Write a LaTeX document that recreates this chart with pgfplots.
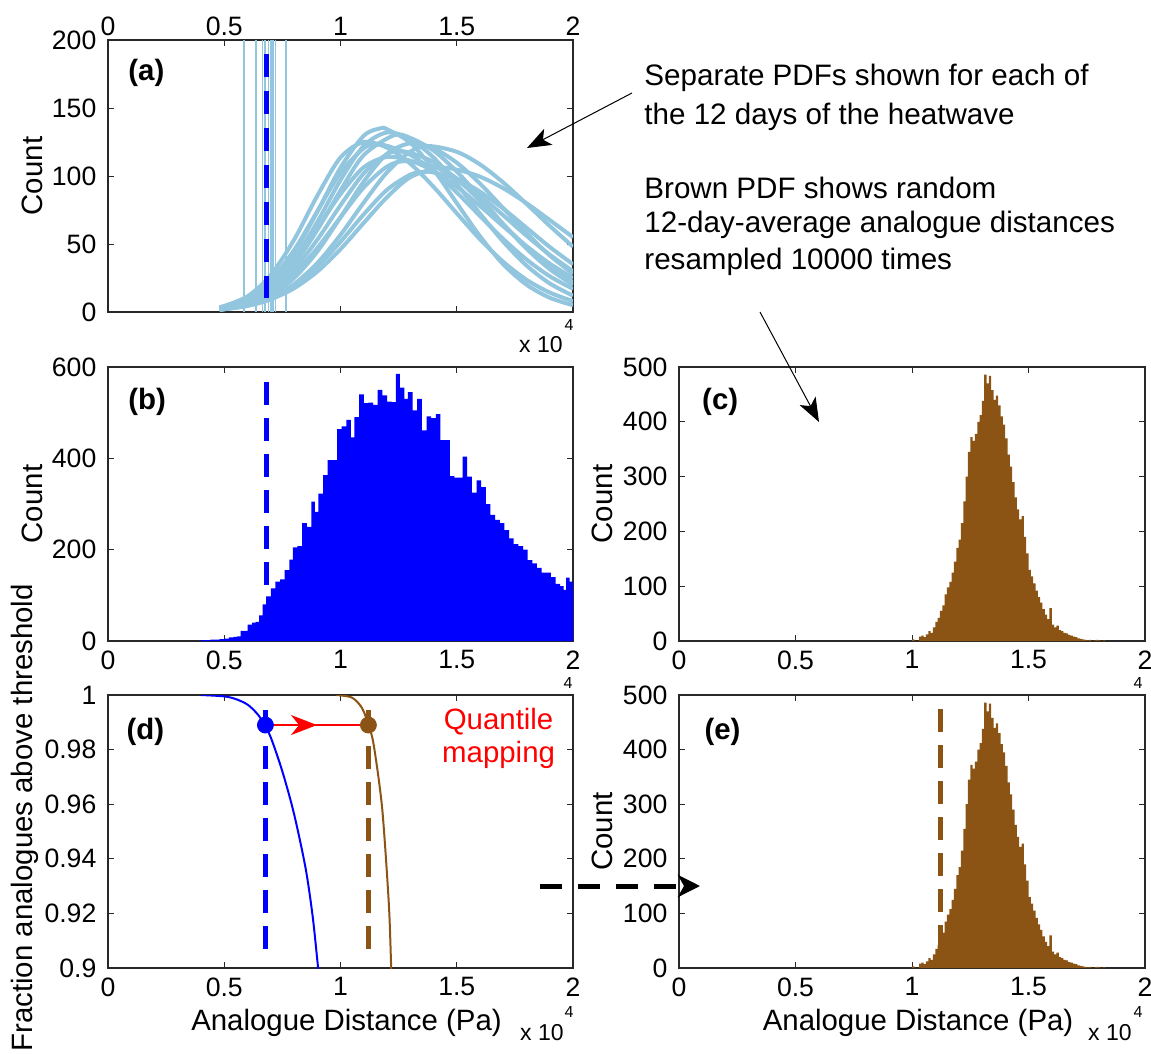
\documentclass[border=0pt]{standalone}
\usepackage{pgfplots}
\pgfplotsset{compat=1.18}
\usepackage{pgfplotstable}
\usepackage{fontspec}
\setmainfont{Liberation Sans}
\usetikzlibrary{arrows.meta}
\definecolor{lb}{RGB}{146,197,222}
\definecolor{brownc}{RGB}{140,84,20}
\definecolor{axgray}{RGB}{40,40,40}

\pgfplotstableread{
x y
1.00 3
1.01 0
1.02 0
1.03 8
1.04 10
1.05 7
1.06 12
1.07 18
1.08 15
1.09 25
1.10 35
1.11 42
1.12 55
1.13 65
1.14 85
1.15 98
1.16 108
1.17 125
1.18 145
1.19 170
1.20 185
1.21 215
1.22 255
1.23 300
1.24 345
1.25 372
1.26 365
1.27 378
1.28 400
1.29 412
1.30 438
1.31 486
1.32 470
1.33 484
1.34 458
1.35 440
1.36 448
1.37 430
1.38 410
1.39 395
1.40 370
1.41 340
1.42 318
1.43 290
1.44 262
1.45 240
1.46 222
1.47 228
1.48 190
1.49 160
1.50 130
1.51 118
1.52 105
1.53 92
1.54 80
1.55 70
1.56 58
1.57 48
1.58 40
1.59 60
1.60 30
1.61 25
1.62 28
1.63 20
1.64 18
1.65 15
1.66 14
1.67 11
1.68 10
1.69 8
1.70 7
1.71 5
1.72 4
1.73 3
1.74 2
1.75 1
1.76 2
1.77 0
1.78 1
1.79 2
1.80 1
1.81 0
1.82 1
1.83 0
}\brownhist

\pgfplotsset{
 panel/.style={
  scale only axis, xmin=0, xmax=2, scaled ticks=false,
  xtick={0,0.5,1,1.5,2}, xticklabels={0,0.5,1,1.5,2},
  tick align=inside, xtick pos=both, ytick pos=both,
  major tick length=3pt,
  axis line style={axgray, line width=0.6pt},
  every tick/.style={axgray, line width=0.5pt},
  tick label style={font=\fontsize{13.3}{15}\selectfont},
  xticklabel style={yshift=-1.2pt},
  yticklabel style={xshift=-2.3pt},
  label style={font=\fontsize{14.7}{17}\selectfont},
 },
 ylab/.style={ylabel style={at={(axis description cs:#1)}, anchor=center}},
 xlab/.style={xlabel style={at={(axis description cs:0.513,-0.2015)}, anchor=center}},
 pdfc/.style={lb, line width=2pt, smooth, no markers},
}
\newcommand{\plab}[2]{\node[anchor=west, inner sep=0pt, font=\fontsize{14.7}{17}\selectfont\bfseries] at (axis description cs:#1) {#2};}

\begin{document}
\begin{tikzpicture}
\path[use as bounding box] (0,0) rectangle (575.5pt,-527pt);

% ---------------- (a)
\begin{axis}[panel, at={(54pt,-156pt)}, anchor=south west,
  width=232.5pt, height=136pt, ymin=0, ymax=200,
  xticklabel pos=upper,
  ytick={0,50,100,150,200}, yticklabels={0,50,100,150,200},
  ylabel={Count}, ylab={-0.163,0.5}]
\addplot[lb, line width=0.75pt] coordinates {(0.585,0)(0.585,200)};
\addplot[lb, line width=0.75pt] coordinates {(0.637,0)(0.637,200)};
\addplot[lb, line width=0.75pt] coordinates {(0.665,0)(0.665,200)};
\addplot[lb, line width=0.75pt] coordinates {(0.675,0)(0.675,200)};
\addplot[lb, line width=0.75pt] coordinates {(0.69,0)(0.69,200)};
\addplot[lb, line width=0.75pt] coordinates {(0.70,0)(0.70,200)};
\addplot[lb, line width=0.75pt] coordinates {(0.71,0)(0.71,200)};
\addplot[lb, line width=0.75pt] coordinates {(0.72,0)(0.72,200)};
\addplot[lb, line width=0.75pt] coordinates {(0.765,0)(0.765,200)};
\addplot[pdfc] coordinates {(0.48,2.6)(0.6,9.0)(0.7,21.4)(0.8,43.2)(0.9,73.6)(1.0,106.1)(1.1,129.6)(1.17,135)(1.2,134.4)(1.3,124.5)(1.4,104.8)(1.5,80.1)(1.6,55.7)(1.7,35.1)(1.8,20.1)(1.9,10.5)(2.0,5.0)};
\addplot[pdfc] coordinates {(0.48,2.5)(0.6,8.3)(0.7,19.3)(0.8,38.6)(0.9,66.1)(1.0,97.0)(1.1,122.2)(1.2,132)(1.3,127.1)(1.4,113.6)(1.5,94.2)(1.6,72.4)(1.7,51.7)(1.8,34.2)(1.9,21.0)(2.0,12.0)};
\addplot[pdfc] coordinates {(0.48,2.4)(0.6,7.9)(0.7,17.9)(0.8,35.2)(0.9,60.2)(1.0,89.4)(1.1,115.4)(1.23,130)(1.3,128.0)(1.4,118.7)(1.5,103.3)(1.6,84.4)(1.7,64.7)(1.8,46.6)(1.9,31.5)(2.0,20.0)};
\addplot[pdfc] coordinates {(0.48,3.2)(0.6,11.5)(0.7,27.2)(0.8,53.0)(0.9,85.4)(1.0,113.6)(1.1,125)(1.2,120.8)(1.3,109.1)(1.4,92.1)(1.5,72.6)(1.6,53.5)(1.7,36.9)(1.8,23.7)(1.9,14.3)(2.0,8.0)};
\addplot[pdfc] coordinates {(0.48,3.2)(0.6,10.5)(0.7,23.7)(0.8,45.4)(0.9,74.0)(1.0,102.4)(1.1,120.5)(1.15,123)(1.2,122.2)(1.3,115.6)(1.4,103.6)(1.5,87.9)(1.6,70.6)(1.7,53.7)(1.8,38.6)(1.9,26.3)(2.0,17.0)};
\addplot[pdfc] coordinates {(0.48,1.6)(0.6,5.3)(0.7,12.3)(0.8,24.9)(0.9,44.4)(1.0,69.6)(1.1,95.9)(1.2,116.3)(1.3,124)(1.4,120.3)(1.5,109.8)(1.6,94.4)(1.7,76.3)(1.8,58.1)(1.9,41.6)(2.0,28.1)};
\addplot[pdfc] coordinates {(0.48,1.7)(0.6,4.8)(0.7,10.5)(0.8,20.5)(0.9,35.9)(1.0,56.7)(1.1,80.5)(1.2,102.7)(1.3,117.9)(1.38,122)(1.5,117.8)(1.6,108.5)(1.7,95.2)(1.8,79.5)(1.9,63.3)(2.0,48.0)};
\addplot[pdfc] coordinates {(0.48,2.5)(0.6,7.5)(0.7,16.4)(0.8,31.5)(0.9,53.1)(1.0,78.5)(1.1,101.9)(1.2,116.1)(1.25,118)(1.3,117.1)(1.4,110.3)(1.5,97.9)(1.6,81.8)(1.7,64.4)(1.8,47.8)(1.9,33.4)(2.0,22.0)};
\addplot[pdfc] coordinates {(0.48,3.3)(0.6,9.7)(0.7,20.5)(0.8,38.0)(0.9,61.5)(1.0,86.7)(1.1,106.4)(1.2,114)(1.3,111.3)(1.4,103.7)(1.5,92.1)(1.6,78.0)(1.7,63.0)(1.8,48.5)(1.9,35.6)(2.0,25.0)};
\addplot[pdfc] coordinates {(0.48,1.7)(0.6,4.5)(0.7,9.3)(0.8,17.4)(0.9,29.7)(1.0,46.2)(1.1,65.5)(1.2,84.4)(1.3,99.1)(1.42,106)(1.5,104.7)(1.6,99.5)(1.7,91.0)(1.8,80.0)(1.9,67.6)(2.0,55.0)};
\addplot[pdfc] coordinates {(0.48,2.5)(0.6,7.1)(0.7,15.0)(0.8,28.2)(0.9,47.0)(1.0,69.7)(1.1,91.6)(1.2,106.9)(1.28,111)(1.4,107.0)(1.5,98.2)(1.6,85.7)(1.7,71.1)(1.8,56.1)(1.9,42.1)(2.0,30.0)};
\addplot[pdfc] coordinates {(0.48,1.6)(0.6,4.7)(0.7,10.1)(0.8,19.3)(0.9,33.3)(1.0,51.6)(1.1,71.8)(1.2,89.8)(1.3,101.0)(1.36,103)(1.4,102.6)(1.5,97.8)(1.6,88.5)(1.7,76.0)(1.8,61.9)(1.9,47.8)(2.0,35.1)};
\addplot[blue, line width=2.5pt, dash pattern=on 11.5pt off 7pt] coordinates {(0.68,190)(0.68,10)};
\plab{0.043,0.879}{(a)}
\end{axis}

% ---------------- (b)
\begin{axis}[panel, at={(54pt,-320.5pt)}, anchor=south west,
  width=232.5pt, height=137pt, ymin=0, ymax=600,
  ytick={0,200,400,600}, yticklabels={0,200,400,600},
  ylabel={Count}, ylab={-0.163,0.5}]
\addplot[const plot, fill=blue, draw=none] coordinates {(0.38,0)(0.40,2)(0.42,2)(0.44,3)(0.46,3)(0.48,4)(0.50,5)(0.52,8)(0.54,9)(0.555,10)(0.57,22)(0.585,22)(0.60,36)(0.62,40)(0.635,42)(0.65,56)(0.665,80)(0.68,98)(0.70,115)(0.72,130)(0.74,135)(0.76,155)(0.78,178)(0.795,205)(0.815,208)(0.835,258)(0.855,250)(0.875,305)(0.89,283)(0.905,323)(0.925,363)(0.945,396)(0.965,396)(0.985,464)(1.005,470)(1.025,484)(1.045,446)(1.06,490)(1.08,540)(1.10,521)(1.12,522)(1.14,517)(1.16,550)(1.18,538)(1.20,524)(1.22,523)(1.238,585)(1.255,555)(1.275,530)(1.29,545)(1.31,505)(1.33,530)(1.35,461)(1.37,492)(1.39,488)(1.41,497)(1.43,440)(1.45,440)(1.47,361)(1.49,358)(1.51,358)(1.525,404)(1.545,360)(1.565,325)(1.585,352)(1.605,337)(1.625,300)(1.645,276)(1.665,265)(1.685,258)(1.705,243)(1.725,225)(1.745,212)(1.765,208)(1.785,200)(1.805,177)(1.825,170)(1.845,160)(1.865,150)(1.885,150)(1.905,140)(1.925,125)(1.945,120)(1.96,112)(1.97,139)(1.985,130)(2.0,130)} \closedcycle;
\addplot[blue, line width=2.5pt, dash pattern=on 11.5pt off 6.5pt] coordinates {(0.68,567)(0.68,112)};
\plab{0.043,0.872}{(b)}
\end{axis}

% ---------------- (c)
\begin{axis}[panel, at={(339.5pt,-320.5pt)}, anchor=south west,
  width=233pt, height=137pt, ymin=0, ymax=500,
  ytick={0,100,200,300,400,500}, yticklabels={0,100,200,300,400,500},
  ylabel={Count}, ylab={-0.165,0.5}]
\addplot[const plot, fill=brownc, draw=none] table[x=x,y=y] {\brownhist} \closedcycle;
\plab{0.049,0.872}{(c)}
\end{axis}

% ---------------- (d)
\begin{axis}[panel, at={(54pt,-484pt)}, anchor=south west,
  width=232.5pt, height=136.5pt, ymin=0.9, ymax=1,
  ytick={0.9,0.92,0.94,0.96,0.98,1}, yticklabels={0.9,0.92,0.94,0.96,0.98,1},
  ylabel={Fraction analogues above threshold}, ylab={-0.178,0.55},
  xlabel={Analogue Distance (Pa)}, xlab]
\addplot[blue, line width=1pt, smooth] coordinates {(0.40,1.0)(0.50,0.9995)(0.55,0.9985)(0.60,0.9965)(0.64,0.9933)(0.668,0.9899)(0.70,0.9845)(0.75,0.972)(0.80,0.9565)(0.85,0.9365)(0.88,0.9191)(0.90,0.9031)(0.906,0.898)};
\addplot[brownc, line width=1pt, smooth] coordinates {(0.982,1.0)(1.048,0.9991)(1.089,0.9957)(1.114,0.9908)(1.139,0.9835)(1.163,0.970)(1.18,0.9578)(1.196,0.9395)(1.21,0.92)(1.218,0.9)(1.22,0.895)};
\addplot[blue, line width=2.5pt, dash pattern=on 11.5pt off 6.5pt] coordinates {(0.677,0.9945)(0.677,0.9055)};
\addplot[brownc, line width=2.5pt, dash pattern=on 11.5pt off 6.5pt] coordinates {(1.12,0.9945)(1.12,0.9055)};
\addplot[red, line width=0.75pt] coordinates {(0.69,0.989)(1.11,0.989)};
\addplot[red, line width=0.75pt, -{Stealth[length=13pt,width=10pt,inset=4pt]}] coordinates {(0.69,0.989)(0.899,0.989)};
\addplot[only marks, mark=*, mark size=4pt, blue] coordinates {(0.677,0.989)};
\addplot[only marks, mark=*, mark size=4pt, brownc] coordinates {(1.12,0.989)};
\node[red, align=center, font=\fontsize{14.7}{16.5}\selectfont] at (axis cs:1.68,0.9842) {Quantile\\mapping};
\plab{0.039,0.864}{(d)}
\end{axis}

% ---------------- (e)
\begin{axis}[panel, at={(339.5pt,-484pt)}, anchor=south west,
  width=233pt, height=136.5pt, ymin=0, ymax=500,
  ytick={0,100,200,300,400,500}, yticklabels={0,100,200,300,400,500},
  ylabel={Count}, ylab={-0.165,0.5},
  xlabel={Analogue Distance (Pa)}, xlab]
\addplot[const plot, fill=brownc, draw=none] table[x=x,y=y] {\brownhist} \closedcycle;
\addplot[brownc, line width=2.5pt, dash pattern=on 11.5pt off 6.5pt] coordinates {(1.123,474)(1.123,38)};
\plab{0.054,0.864}{(e)}
\end{axis}

% ---------------- exponent labels
\begin{scope}[every node/.style={inner sep=0pt}]
\node[anchor=east, font=\fontsize{11.5}{13}\selectfont] at (281.5pt,-172.5pt) {x 10};
\node[font=\fontsize{8}{9}\selectfont] at (284.5pt,-162.5pt) {4};
\node[font=\fontsize{8}{9}\selectfont] at (284pt,-341.5pt) {4};
\node[font=\fontsize{8}{9}\selectfont] at (569pt,-341.5pt) {4};
\node[anchor=east, font=\fontsize{11.5}{13}\selectfont] at (282pt,-516.5pt) {x 10};
\node[font=\fontsize{8}{9}\selectfont] at (284.5pt,-506pt) {4};
\node[anchor=east, font=\fontsize{11.5}{13}\selectfont] at (566pt,-516.5pt) {x 10};
\node[font=\fontsize{8}{9}\selectfont] at (569pt,-506pt) {4};
\end{scope}

% ---------------- annotations
\begin{scope}[every node/.style={anchor=west, inner sep=0pt, font=\fontsize{14.8}{17}\selectfont}]
\node at (322pt,-39pt) {Separate PDFs shown for each of};
\node at (322pt,-58.5pt) {the 12 days of the heatwave};
\node at (322pt,-94pt) {Brown PDF shows random};
\node at (322pt,-112.5pt) {12-day-average analogue distances};
\node at (322pt,-131pt) {resampled 10000 times};
\end{scope}
\draw[line width=0.5pt, -{Stealth[length=12pt,width=9pt,inset=3pt]}] (316pt,-46.5pt) -- (263.5pt,-74pt);
\draw[line width=0.5pt, -{Stealth[length=12pt,width=9pt,inset=3pt]}] (380pt,-156pt) -- (409.5pt,-211pt);
\draw[line width=2.5pt, dash pattern=on 11pt off 8pt, -{Stealth[length=11pt,width=11pt,inset=3pt]}] (270pt,-443pt) -- (350pt,-443pt);
\end{tikzpicture}
\end{document}
